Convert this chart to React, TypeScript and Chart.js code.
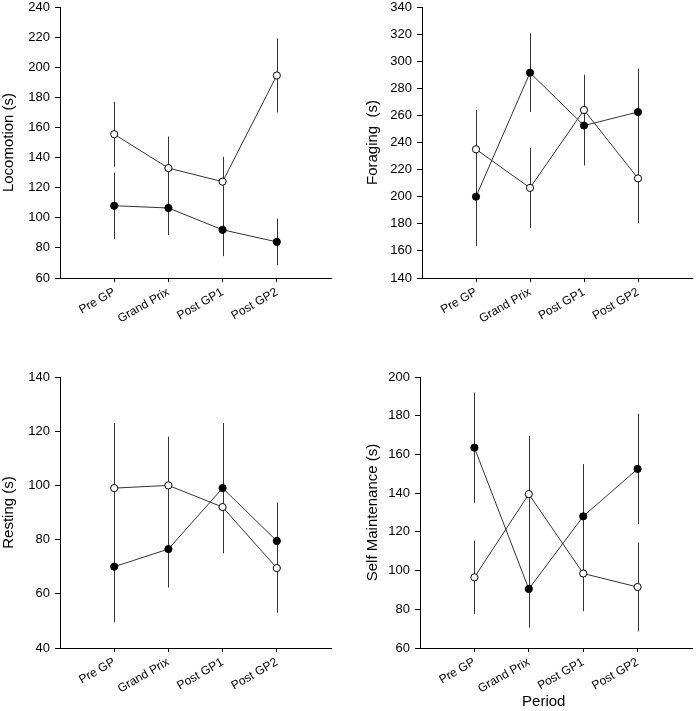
import React, { useEffect, useRef } from 'react';
import { Chart, registerables } from 'chart.js';

Chart.register(...registerables);

// ---- Data ----
const periods = ['Pre GP', 'Grand Prix', 'Post GP1', 'Post GP2'];

const locomotionOpen = [155.5, 133, 124, 194.5];
const locomotionOpenErr = [21.5, 21, 16.5, 24.5];
const locomotionFilled = [108, 106.5, 92, 84];
const locomotionFilledErr = [22, 18, 17.5, 15.5];

const foragingOpen = [235, 206.5, 264, 213.5];
const foragingOpenErr = [29, 29.5, 26, 33];
const foragingFilled = [200, 291.5, 252.5, 262.5];
const foragingFilledErr = [36.5, 29, 29.5, 32];

const restingOpen = [99, 100, 92, 69.5];
const restingOpenErr = [24, 18, 17, 16.5];
const restingFilled = [70, 76.5, 99, 79.5];
const restingFilledErr = [20.5, 14.2, 24, 14.2];

const selfOpen = [96.5, 139.5, 98.5, 91.5];
const selfOpenErr = [19, 30, 19.5, 23];
const selfFilled = [163.5, 90.5, 128, 152.5];
const selfFilledErr = [28.5, 20, 27, 28.5];

const FONT = "'Liberation Sans', Arial, Helvetica, sans-serif";

const errorBarPlugin = {
  id: 'errorBars',
  beforeDatasetsDraw(chart: any, _args: any, opts: any) {
    const errs: number[][] = opts.errors || [];
    const ctx = chart.ctx;
    const xs = chart.scales.x;
    const ys = chart.scales.y;
    ctx.save();
    ctx.strokeStyle = '#333';
    ctx.lineWidth = 1;
    chart.data.datasets.forEach((ds: any, di: number) => {
      const e = errs[di];
      if (!e) return;
      ds.data.forEach((p: any, i: number) => {
        const x = Math.round(xs.getPixelForValue(p.x)) + 0.5;
        const y1 = ys.getPixelForValue(p.y - e[i]);
        const y2 = ys.getPixelForValue(p.y + e[i]);
        ctx.beginPath();
        ctx.moveTo(x, y1);
        ctx.lineTo(x, y2);
        ctx.stroke();
      });
    });
    ctx.restore();
  },
};

// Axis title drawn slightly left of the axis centre, as in the original figure
const xTitlePlugin = {
  id: 'xTitleText',
  afterDraw(chart: any, _args: any, opts: any) {
    if (!opts.text) return;
    const ctx = chart.ctx;
    const { left, right } = chart.chartArea;
    ctx.save();
    ctx.fillStyle = '#000';
    ctx.font = `15px ${FONT}`;
    ctx.textAlign = 'center';
    ctx.textBaseline = 'middle';
    ctx.fillText(opts.text, left + (right - left) * opts.frac, chart.height - opts.fromBottom);
    ctx.restore();
  },
};

type Spec = {
  left: number; top: number; w: number; h: number;
  area: { l: number; t: number; r: number; b: number };
  titleCx: number;
  yTitle: string; yMin: number; yMax: number;
  open: number[]; openErr: number[]; filled: number[]; filledErr: number[];
  xTitle?: string;
};

function Panel({ s }: { s: Spec }) {
  const ref = useRef<HTMLCanvasElement>(null);
  useEffect(() => {
    if (!ref.current) return;
    const toPts = (arr: number[]) => arr.map((v, i) => ({ x: i, y: v }));
    const chart = new Chart(ref.current, {
      type: 'line',
      data: {
        datasets: [
          {
            data: toPts(s.filled),
            borderColor: '#333',
            borderWidth: 1,
            pointRadius: 3.6,
            pointBackgroundColor: '#000',
            pointBorderColor: '#000',
            pointBorderWidth: 1,
            tension: 0,
          },
          {
            data: toPts(s.open),
            borderColor: '#333',
            borderWidth: 1,
            pointRadius: 3.6,
            pointBackgroundColor: '#fff',
            pointBorderColor: '#000',
            pointBorderWidth: 1,
            tension: 0,
          },
        ],
      },
      options: {
        responsive: false,
        animation: false,
        events: [],
        layout: {
          padding: { left: 0, top: s.area.t, right: s.w - s.area.r, bottom: 0 },
        },
        plugins: {
          legend: { display: false },
          tooltip: { enabled: false },
          errorBars: { errors: [s.filledErr, s.openErr] },
          xTitleText: { text: s.xTitle || '', frac: 0.455, fromBottom: 9 },
        } as any,
        scales: {
          x: {
            type: 'linear',
            min: -1,
            max: 4,
            afterBuildTicks: (sc: any) => {
              sc.ticks = periods.map((_, i) => ({ value: i }));
            },
            afterFit: (sc: any) => {
              sc.height = s.h - s.area.b;
              sc.paddingLeft = 0;
              sc.paddingRight = 0;
            },
            ticks: {
              autoSkip: false,
              minRotation: 30,
              maxRotation: 30,
              padding: 3,
              color: '#000',
              font: { family: FONT, size: 12 },
              callback: (v: any) => periods[v as number] ?? '',
            },
            grid: {
              display: true,
              drawOnChartArea: false,
              drawTicks: true,
              tickLength: 4,
              color: '#000',
            },
            border: { display: true, color: '#000', width: 1 },
          },
          y: {
            type: 'linear',
            min: s.yMin,
            max: s.yMax,
            afterFit: (sc: any) => {
              sc.width = s.area.l;
              sc.paddingTop = 0;
              sc.paddingBottom = 0;
            },
            ticks: {
              stepSize: 20,
              padding: 5,
              color: '#000',
              font: { family: FONT, size: 13 },
            },
            grid: {
              display: true,
              drawOnChartArea: false,
              drawTicks: true,
              tickLength: 5,
              color: '#000',
            },
            border: { display: true, color: '#000', width: 1 },
            title: {
              display: true,
              text: s.yTitle,
              color: '#000',
              font: { family: FONT, size: 15 },
              padding: { top: s.titleCx - 9, bottom: 0 },
            },
          },
        },
      },
      plugins: [errorBarPlugin, xTitlePlugin],
    } as any);
    return () => chart.destroy();
  }, [s]);
  return (
    <canvas
      ref={ref}
      width={s.w}
      height={s.h}
      style={{ position: 'absolute', left: s.left, top: s.top, width: s.w, height: s.h }}
    />
  );
}

const specs: Spec[] = [
  {
    left: 0, top: 0, w: 348, h: 355,
    area: { l: 60, t: 7, r: 331, b: 278 }, titleCx: 9,
    yTitle: 'Locomotion (s)', yMin: 60, yMax: 240,
    open: locomotionOpen, openErr: locomotionOpenErr,
    filled: locomotionFilled, filledErr: locomotionFilledErr,
  },
  {
    left: 348, top: 0, w: 349, h: 355,
    area: { l: 74, t: 7, r: 345, b: 278 }, titleCx: 25,
    yTitle: 'Foraging  (s)', yMin: 140, yMax: 340,
    open: foragingOpen, openErr: foragingOpenErr,
    filled: foragingFilled, filledErr: foragingFilledErr,
  },
  {
    left: 0, top: 355, w: 348, h: 356,
    area: { l: 60, t: 22, r: 331, b: 293 }, titleCx: 9,
    yTitle: 'Resting (s)', yMin: 40, yMax: 140,
    open: restingOpen, openErr: restingOpenErr,
    filled: restingFilled, filledErr: restingFilledErr,
  },
  {
    left: 348, top: 355, w: 349, h: 356,
    area: { l: 72, t: 22, r: 344, b: 293 }, titleCx: 25,
    yTitle: 'Self Maintenance (s)', yMin: 60, yMax: 200,
    open: selfOpen, openErr: selfOpenErr,
    filled: selfFilled, filledErr: selfFilledErr,
    xTitle: 'Period',
  },
];

export default function App() {
  return (
    <div style={{ position: 'absolute', left: 0, top: 0, width: 697, height: 711, background: '#fff' }}>
      {specs.map((s, i) => (
        <Panel key={i} s={s} />
      ))}
    </div>
  );
}
